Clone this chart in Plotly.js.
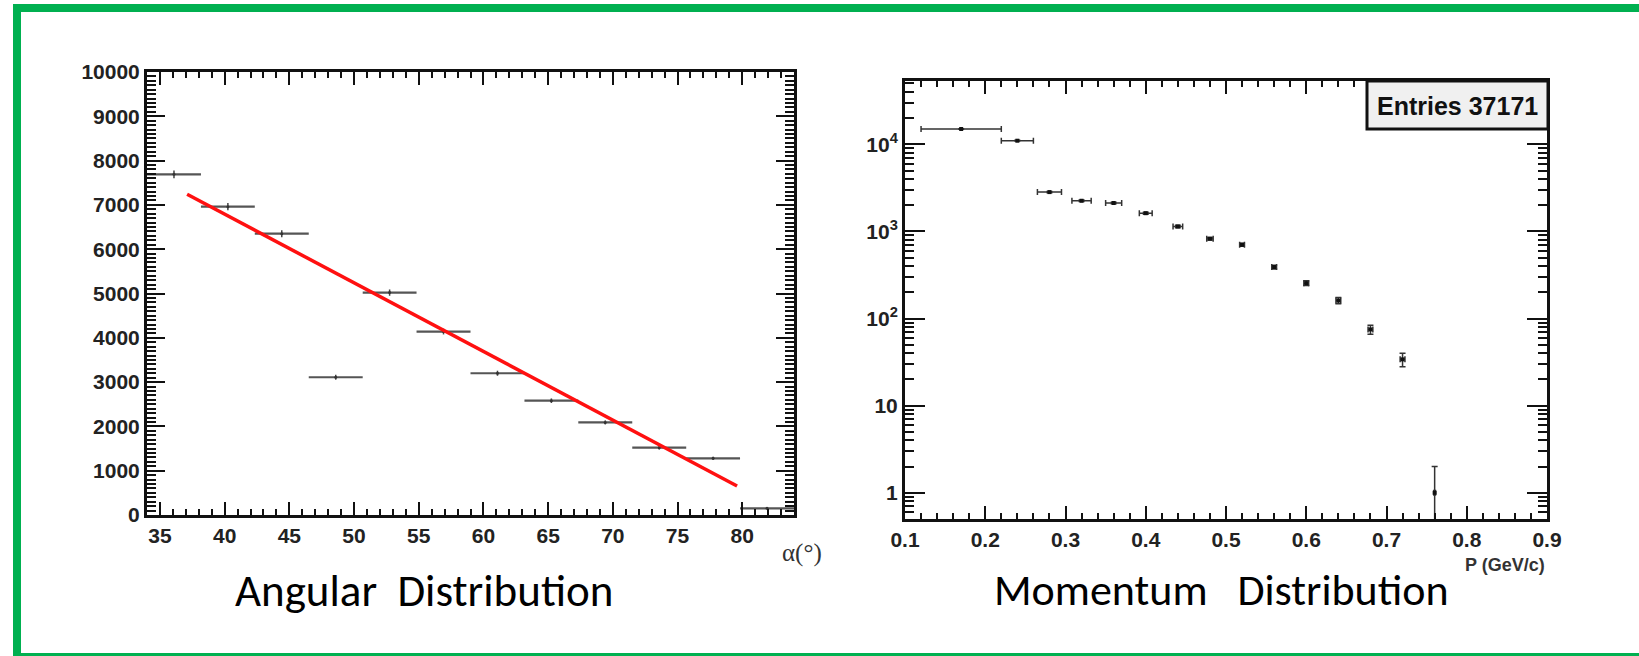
<!DOCTYPE html>
<html>
<head>
<meta charset="utf-8">
<script src="https://cdn.plot.ly/plotly-3.0.1.min.js"></script>
<style>html,body{margin:0;padding:0;background:#fff;}#chart{width:1639px;height:656px;}</style>
</head>
<body>
<div id="chart"></div>
<script>
// ---------- Angular distribution (left) ----------
const angleBinEdges = [34, 38.17, 42.33, 46.5, 50.67, 54.83, 59, 63.17, 67.33, 71.5, 75.67, 79.83, 84];
const angleCounts   = [7690, 6960, 6350, 3110, 5020, 4140, 3200, 2580, 2090, 1520, 1280, 150];
const angleErrors   = [88, 83, 80, 56, 71, 64, 57, 51, 46, 39, 36, 12];
const fitAngle      = [37.1, 79.6];
const fitCounts     = [7240, 655];
const angleTicks    = [35, 40, 45, 50, 55, 60, 65, 70, 75, 80];

// ---------- Momentum distribution (right) ----------
const momentum       = [0.17, 0.24, 0.28, 0.32, 0.36, 0.40, 0.44, 0.48, 0.52, 0.56, 0.60, 0.64, 0.68, 0.72, 0.76];
const momentumHalfW  = [0.05, 0.02, 0.015, 0.012, 0.010, 0.008, 0.006, 0.004, 0.003, 0.003, 0.003, 0.003, 0.003, 0.003, 0.001];
const momentumCounts = [15000, 11000, 2830, 2250, 2120, 1620, 1140, 825, 703, 390, 255, 161, 75, 34, 1];
const momentumErrors = [122, 105, 53, 47, 46, 40, 34, 29, 27, 20, 16, 13, 9, 6, 1];
const logTickVals    = [1, 10, 100, 1000, 10000];
const logTickText    = ['1', '10', '10<sup>2</sup>', '10<sup>3</sup>', '10<sup>4</sup>'];
const entriesText    = 'Entries 37171';

const W = 1639, H = 656;
const fx = p => p / W;
const fy = p => 1 - p / H;

const angleCenters = angleBinEdges.slice(0, -1).map((e, i) => (e + angleBinEdges[i + 1]) / 2);
const angleHalfW   = angleBinEdges.slice(0, -1).map((e, i) => (angleBinEdges[i + 1] - e) / 2);

const minorLog = [];
for (let d = 0.1; d <= 100000; d *= 10) for (let k = 2; k <= 9; k++) minorLog.push(k * d);

const tickFont = {family: 'Liberation Sans, Arial, sans-serif', size: 21, weight: 'bold', color: '#222'};
const axisCommon = {
  showline: true, linewidth: 3, linecolor: '#111', mirror: 'ticks',
  ticks: 'inside', tickwidth: 2, tickcolor: '#111',
  showgrid: false, zeroline: false, tickfont: tickFont
};

const traces = [
  {
    x: angleCenters, y: angleCounts, xaxis: 'x', yaxis: 'y',
    type: 'scatter', mode: 'markers',
    marker: {size: 3, color: '#333'},
    error_x: {type: 'data', array: angleHalfW, visible: true, color: '#555', thickness: 2.2, width: 0},
    error_y: {type: 'data', array: angleErrors, visible: true, color: '#444', thickness: 1.5, width: 0},
    showlegend: false, hoverinfo: 'x+y'
  },
  {
    x: fitAngle, y: fitCounts, xaxis: 'x', yaxis: 'y',
    type: 'scatter', mode: 'lines',
    line: {color: '#ff1010', width: 3.5},
    showlegend: false
  },
  {
    x: momentum, y: momentumCounts, xaxis: 'x2', yaxis: 'y2',
    type: 'scatter', mode: 'markers',
    marker: {size: 4, symbol: 'square', color: '#111'},
    error_x: {type: 'data', array: momentumHalfW, visible: true, color: '#333', thickness: 1.5, width: 3},
    error_y: {type: 'data', array: momentumErrors, visible: true, color: '#333', thickness: 1.5, width: 3},
    showlegend: false, hoverinfo: 'x+y'
  }
];

const layout = {
  width: W, height: H, autosize: false,
  margin: {l: 0, r: 0, t: 0, b: 0},
  paper_bgcolor: '#fff', plot_bgcolor: '#fff',
  showlegend: false,
  xaxis: Object.assign({}, axisCommon, {
    domain: [fx(147), fx(794)], range: [34, 84], anchor: 'y',
    tickmode: 'array', tickvals: angleTicks, ticklen: 13,
    minor: {dtick: 1, tick0: 34, ticks: 'inside', ticklen: 6, tickwidth: 2, tickcolor: '#111'}
  }),
  yaxis: Object.assign({}, axisCommon, {
    domain: [fy(515), fy(72)], range: [0, 10000], anchor: 'x',
    tickmode: 'linear', tick0: 0, dtick: 1000, tickformat: 'd', ticklen: 18,
    minor: {dtick: 100, tick0: 0, ticks: 'inside', ticklen: 9, tickwidth: 2, tickcolor: '#111'}
  }),
  xaxis2: Object.assign({}, axisCommon, {
    domain: [fx(905), fx(1547)], range: [0.1, 0.9], anchor: 'y2',
    tickmode: 'linear', tick0: 0.1, dtick: 0.1, tickformat: '.1f', ticklen: 13,
    minor: {dtick: 0.02, tick0: 0.1, ticks: 'inside', ticklen: 6, tickwidth: 2, tickcolor: '#111'}
  }),
  yaxis2: Object.assign({}, axisCommon, {
    type: 'log', domain: [fy(519), fy(81)], range: [Math.log10(0.5), 4.727], anchor: 'x2',
    tickmode: 'array', tickvals: logTickVals, ticktext: logTickText, ticklen: 20,
    minor: {tickmode: 'array', tickvals: minorLog, ticks: 'inside', ticklen: 9, tickwidth: 2, tickcolor: '#111'}
  }),
  shapes: [
    {type: 'rect', xref: 'paper', yref: 'paper', x0: fx(13), x1: fx(1639), y0: fy(12), y1: fy(4), fillcolor: '#00b050', line: {width: 0}},
    {type: 'rect', xref: 'paper', yref: 'paper', x0: fx(13), x1: fx(21), y0: fy(656), y1: fy(4), fillcolor: '#00b050', line: {width: 0}},
    {type: 'rect', xref: 'paper', yref: 'paper', x0: fx(13), x1: fx(1639), y0: fy(656), y1: fy(653), fillcolor: '#00b050', line: {width: 0}},
    {type: 'rect', xref: 'paper', yref: 'paper', x0: fx(1367), x1: fx(1548), y0: fy(129), y1: fy(81), fillcolor: '#f0f0f0', line: {color: '#111', width: 3}, layer: 'above'}
  ],
  annotations: [
    {xref: 'paper', yref: 'paper', x: fx(1457), y: fy(106), text: entriesText, showarrow: false,
     font: {family: 'Liberation Sans, Arial, sans-serif', size: 25, weight: 'bold', color: '#111'}, xanchor: 'center', yanchor: 'middle'},
    {xref: 'paper', yref: 'paper', x: fx(824), y: fy(553), text: 'α(°)', showarrow: false,
     font: {family: 'Liberation Serif, serif', size: 25, color: '#333'}, xanchor: 'right', yanchor: 'middle'},
    {xref: 'paper', yref: 'paper', x: fx(1547), y: fy(565), text: 'P (GeV/c)', showarrow: false,
     font: {family: 'Liberation Sans, Arial, sans-serif', size: 18, weight: 'bold', color: '#333'}, xanchor: 'right', yanchor: 'middle'},
    {xref: 'paper', yref: 'paper', x: fx(424), y: fy(590), text: 'Angular  Distribution', showarrow: false,
     font: {family: 'Carlito, Calibri, Lato, sans-serif', size: 45, color: '#000'}, xanchor: 'center', yanchor: 'middle'},
    {xref: 'paper', yref: 'paper', x: fx(1221), y: fy(590), text: 'Momentum   Distribution', showarrow: false,
     font: {family: 'Carlito, Calibri, Lato, sans-serif', size: 44, color: '#000'}, xanchor: 'center', yanchor: 'middle'}
  ]
};

Plotly.newPlot('chart', traces, layout, {staticPlot: true, displayModeBar: false});
</script>
</body>
</html>
